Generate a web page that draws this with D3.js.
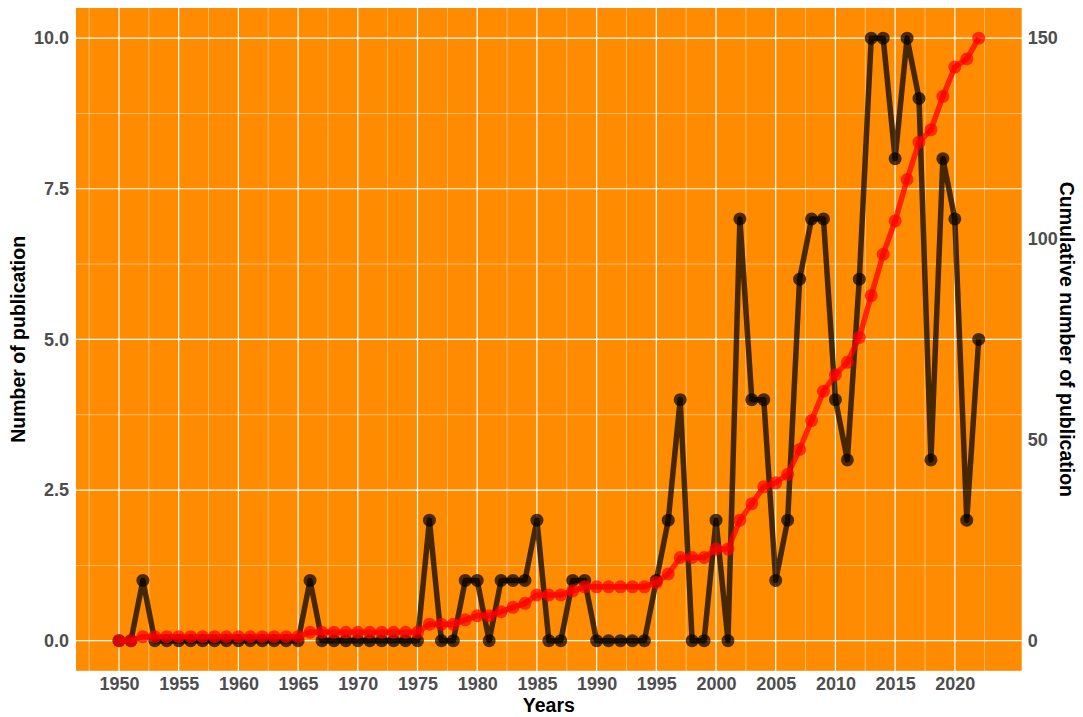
<!DOCTYPE html>
<html>
<head>
<meta charset="utf-8">
<script src="https://cdn.jsdelivr.net/npm/d3@7"></script>
<style>
  body { margin: 0; background: #fff; }
  text { font-family: "Liberation Sans", Arial, sans-serif; font-weight: bold; }
</style>
</head>
<body>
<svg id="chart" width="1083" height="717"></svg>
<script>
// publications per year, 1950..2022
var years = d3.range(1950, 2023);
var counts = [
  0, 0, 1, 0, 0, 0, 0, 0, 0, 0,   // 1950-1959
  0, 0, 0, 0, 0, 0, 1, 0, 0, 0,   // 1960-1969
  0, 0, 0, 0, 0, 0, 2, 0, 0, 1,   // 1970-1979
  1, 0, 1, 1, 1, 2, 0, 0, 1, 1,   // 1980-1989
  0, 0, 0, 0, 0, 1, 2, 4, 0, 0,   // 1990-1999
  2, 0, 7, 4, 4, 1, 2, 6, 7, 7,   // 2000-2009
  4, 3, 6, 10, 10, 8, 10, 9, 3, 8, // 2010-2019
  7, 2, 5                         // 2020-2022
];
// cumulative line, read in right-axis units
var cumulative = [
  0, 0, 1, 1, 1, 1, 1, 1, 1, 1,
  1, 1, 1, 1, 1, 1, 2.1, 2.1, 2.1, 2.1,
  2.1, 2.1, 2.1, 2.1, 2.1, 2.1, 4.1, 4.1, 4.1, 5.2,
  6.2, 6.2, 7.2, 8.3, 9.3, 11.4, 11.4, 11.4, 12.4, 13.4,
  13.4, 13.4, 13.4, 13.4, 13.4, 14.5, 16.6, 20.7, 20.7, 20.7,
  22.8, 22.8, 30, 34.1, 38.3, 39.3, 41.4, 47.6, 54.8, 62.1,
  66.2, 69.3, 75.5, 85.9, 96.2, 104.5, 114.8, 124.1, 127.2, 135.5,
  142.8, 144.8, 150
];
var xTicks = d3.range(1950, 2021, 5);
var yTicks = [0, 2.5, 5, 7.5, 10];
var y2Ticks = [0, 50, 100, 150];

var svg = d3.select('#chart');
var pLeft = 76, pRight = 1021.7, pTop = 8, pBottom = 670.8;

var x = d3.scaleLinear().domain([1946.4, 2025.6]).range([pLeft, pRight]);
var y = d3.scaleLinear().domain([-0.5, 10.5]).range([pBottom, pTop]);
var y2 = d3.scaleLinear().domain([-7.5, 157.5]).range([pBottom, pTop]);

svg.append('rect')
  .attr('x', pLeft).attr('y', pTop)
  .attr('width', pRight - pLeft).attr('height', pBottom - pTop)
  .attr('fill', '#ff8c00');

// grid
var g = svg.append('g');
var xMinor = d3.range(1947.5, 2025, 5);
var yMinor = [1.25, 3.75, 6.25, 8.75];
g.selectAll('.xm').data(xMinor).enter().append('line')
  .attr('x1', function(d) { return x(d); }).attr('x2', function(d) { return x(d); })
  .attr('y1', pTop).attr('y2', pBottom)
  .attr('stroke', '#fff').attr('stroke-width', 0.6).attr('opacity', 0.75);
g.selectAll('.ym').data(yMinor).enter().append('line')
  .attr('y1', function(d) { return y(d); }).attr('y2', function(d) { return y(d); })
  .attr('x1', pLeft).attr('x2', pRight)
  .attr('stroke', '#fff').attr('stroke-width', 0.6).attr('opacity', 0.75);
g.selectAll('.xM').data(xTicks).enter().append('line')
  .attr('x1', function(d) { return x(d); }).attr('x2', function(d) { return x(d); })
  .attr('y1', pTop).attr('y2', pBottom)
  .attr('stroke', '#fff').attr('stroke-width', 1.2);
g.selectAll('.yM').data(yTicks).enter().append('line')
  .attr('y1', function(d) { return y(d); }).attr('y2', function(d) { return y(d); })
  .attr('x1', pLeft).attr('x2', pRight)
  .attr('stroke', '#fff').attr('stroke-width', 1.2);

// axes (no domain line, no tick marks)
var xAxis = svg.append('g')
  .attr('transform', 'translate(0,' + pBottom + ')')
  .call(d3.axisBottom(x).tickValues(xTicks).tickFormat(d3.format('d')).tickSize(0).tickPadding(6));
var yAxis = svg.append('g')
  .attr('transform', 'translate(' + pLeft + ',0)')
  .call(d3.axisLeft(y).tickValues(yTicks).tickFormat(d3.format('.1f')).tickSize(0).tickPadding(7));
var y2Axis = svg.append('g')
  .attr('transform', 'translate(' + pRight + ',0)')
  .call(d3.axisRight(y2).tickValues(y2Ticks).tickFormat(d3.format('d')).tickSize(0).tickPadding(6));
[xAxis, yAxis, y2Axis].forEach(function(a) {
  a.select('.domain').remove();
  a.selectAll('text')
    .style('font-family', '"Liberation Sans", Arial, sans-serif')
    .style('font-weight', 'bold')
    .style('font-size', '18px')
    .attr('fill', '#4d4d4d');
});

// titles
svg.append('text')
  .attr('x', (pLeft + pRight) / 2).attr('y', 712)
  .attr('text-anchor', 'middle').attr('font-size', 19.5).attr('fill', '#000')
  .text('Years');
svg.append('text')
  .attr('transform', 'translate(25,' + ((pTop + pBottom) / 2) + ') rotate(-90)')
  .attr('text-anchor', 'middle').attr('font-size', 19.5).attr('fill', '#000')
  .text('Number of publication');
svg.append('text')
  .attr('transform', 'translate(1060,' + ((pTop + pBottom) / 2) + ') rotate(90)')
  .attr('text-anchor', 'middle').attr('font-size', 19.5).attr('fill', '#000')
  .text('Cumulative number of publication');

// series
var line1 = d3.line()
  .x(function(d, i) { return x(years[i]); })
  .y(function(d) { return y(d); });
var line2 = d3.line()
  .x(function(d, i) { return x(years[i]); })
  .y(function(d) { return y2(d); });

var plot = svg.append('g');
plot.append('path').datum(counts)
  .attr('d', line1).attr('fill', 'none')
  .attr('stroke', '#000').attr('stroke-opacity', 0.72)
  .attr('stroke-width', 5.5).attr('stroke-linejoin', 'round');
plot.selectAll('.p1').data(counts).enter().append('circle')
  .attr('cx', function(d, i) { return x(years[i]); })
  .attr('cy', function(d) { return y(d); })
  .attr('r', 6.5).attr('fill', '#000').attr('fill-opacity', 0.7);

plot.append('path').datum(cumulative)
  .attr('d', line2).attr('fill', 'none')
  .attr('stroke', '#ff0000').attr('stroke-opacity', 0.75)
  .attr('stroke-width', 5.5).attr('stroke-linejoin', 'round');
plot.selectAll('.p2').data(cumulative).enter().append('circle')
  .attr('cx', function(d, i) { return x(years[i]); })
  .attr('cy', function(d) { return y2(d); })
  .attr('r', 6.5).attr('fill', '#ff0000').attr('fill-opacity', 0.7);
</script>
</body>
</html>
